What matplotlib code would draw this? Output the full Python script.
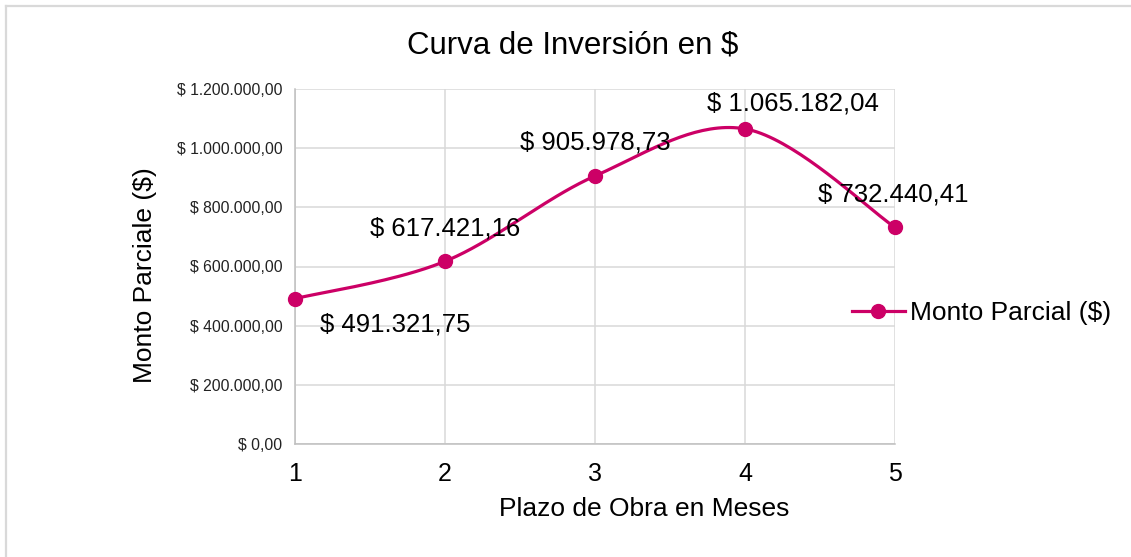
"""
Curva de Inversion - smoothed line chart in Excel style.
"""
import numpy as np
import matplotlib
matplotlib.use('Agg')
import matplotlib.pyplot as plt
from matplotlib.lines import Line2D
from matplotlib.ticker import FuncFormatter, MultipleLocator

plt.rcParams['font.family'] = ['Liberation Sans', 'DejaVu Sans']

meses = [1, 2, 3, 4, 5]
montos = [491321.75, 617421.16, 905978.73, 1065182.04, 732440.41]
serie_nombre = 'Monto Parcial ($)'
titulo = 'Curva de Inversión en $'
eje_x = 'Plazo de Obra en Meses'
eje_y = 'Monto Parciale ($)'

COLOR = '#CC0066'
GRID = '#D9D9D9'
AXIS = '#BFBFBF'


def pesos(v, pos=None):
    s = f'{v:,.2f}'
    s = s.replace(',', 'X').replace('.', ',').replace('X', '.')
    return f'$ {s}'


def smooth(x, y, n=40):
    """Excel-like smoothing (Catmull-Rom through cubic Bezier)."""
    p = np.column_stack([x, y]).astype(float)
    ext = np.vstack([p[0], p, p[-1]])
    out = []
    t = np.linspace(0, 1, n)[:, None]
    for i in range(len(p) - 1):
        p0, p1 = ext[i + 1], ext[i + 2]
        c1 = p0 + (ext[i + 2] - ext[i]) / 6
        c2 = p1 - (ext[i + 3] - ext[i + 1]) / 6
        seg = ((1 - t) ** 3 * p0 + 3 * (1 - t) ** 2 * t * c1
               + 3 * (1 - t) * t ** 2 * c2 + t ** 3 * p1)
        out.append(seg if i == 0 else seg[1:])
    out = np.vstack(out)
    return out[:, 0], out[:, 1]


W, H = 1131, 557
fig = plt.figure(figsize=(W / 100, H / 100), dpi=100)
ax = fig.add_axes([295 / W, 1 - 444 / H, 600 / W, 355 / H])

sx, sy = smooth(meses, montos)
ax.plot(sx, sy, color=COLOR, lw=2.3, solid_capstyle='round', zorder=3,
        clip_on=False)
ax.plot(meses, montos, 'o', color=COLOR, ms=10, zorder=4, clip_on=False)

ax.set_xlim(1, 5)
ax.set_ylim(0, 1200000)
ax.yaxis.set_major_locator(MultipleLocator(200000))
ax.yaxis.set_major_formatter(FuncFormatter(pesos))
ax.set_xticks(meses)
ax.grid(True, color=GRID, lw=1.1, zorder=0)
for side in ('top', 'right'):
    ax.spines[side].set_visible(False)
for side in ('left', 'bottom'):
    ax.spines[side].set_color(AXIS)
    ax.spines[side].set_linewidth(1.1)
ax.tick_params(axis='y', length=0, pad=9, labelsize=11.3, labelcolor='#222222')
ax.tick_params(axis='x', length=0, pad=13, labelsize=18)

offsets = [(100, -26), (0, 33), (0, 33), (48, 25), (-2, 33)]
for x, y, (dx, dy) in zip(meses, montos, offsets):
    ax.annotate(pesos(y), (x, y), xytext=(dx, dy), textcoords='offset pixels',
                ha='center', va='center', fontsize=18.5, zorder=5)

fig.text(573 / W, 1 - 46 / H, titulo, ha='center', va='center', fontsize=22.5)
fig.text(644 / W, 1 - 509 / H, eje_x, ha='center', va='center', fontsize=19)
fig.text(145 / W, 1 - 275 / H, eje_y, ha='center', va='center',
         rotation=90, fontsize=19)

handle = Line2D([], [], color=COLOR, lw=2.3, marker='o', ms=10)
fig.legend([handle], [serie_nombre], loc='center left',
           bbox_to_anchor=(852 / W, 1 - 313 / H), frameon=False,
           fontsize=19, handlelength=2.0, handletextpad=0.2, borderpad=0,
           borderaxespad=0)

# chart frame (only top and left edges fall inside the picture)
fig.add_artist(Line2D([6 / W, 1], [1 - 6 / H, 1 - 6 / H], color=GRID, lw=1.6))
fig.add_artist(Line2D([6 / W, 6 / W], [0, 1 - 6 / H], color=GRID, lw=1.6))

fig.savefig('out.png', dpi=100, facecolor='white')
